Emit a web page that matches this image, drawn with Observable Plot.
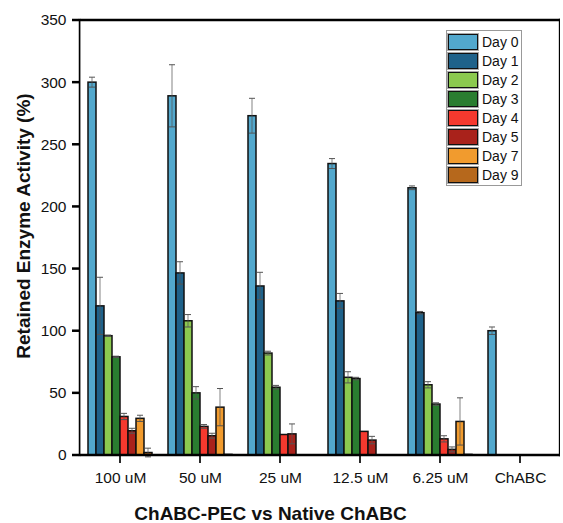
<!DOCTYPE html>
<html><head><meta charset="utf-8">
<script src="https://cdn.jsdelivr.net/npm/d3@7"></script>
<script src="https://cdn.jsdelivr.net/npm/@observablehq/plot@0.6"></script>
<style>
html,body{margin:0;padding:0;background:#fff;}
#wrap{position:relative;width:563px;height:523px;font-family:"Liberation Sans",Arial,sans-serif;}
#legend{position:absolute;left:446px;top:30px;width:73px;border:1px solid #999;background:#fff;padding:1px 0 1px 1px;font-family:"Liberation Sans",Arial,sans-serif;}
#legend .row{display:flex;align-items:center;height:19px;}
#legend .sw{width:28px;height:14px;border:1.5px solid #111;box-shadow:0 0 0 1px #aaa;margin-right:4px;}
#legend .lb{font-size:14px;line-height:16px;color:#111;}
</style></head><body><div id="wrap"></div><script>
const concentrations = ["100 uM", "50 uM", "25 uM", "12.5 uM", "6.25 uM", "ChABC"];
const days = ["Day 0", "Day 1", "Day 2", "Day 3", "Day 4", "Day 5", "Day 7", "Day 9"];
const colors = ["#52A8CD", "#1F628A", "#8BC94F", "#2A7D30", "#F5392E", "#A9221B", "#F19B2E", "#B6681C"];
const yTicks = [0, 50, 100, 150, 200, 250, 300, 350];

// values per day, across concentrations
const day0 = [300, 289, 273, 234.5, 215, 100];
const day1 = [120, 146.5, 136, 124, 114.5, 0];
const day2 = [96, 108, 82, 62.5, 56.5, 0];
const day3 = [79, 50, 54.5, 61.5, 41, 0];
const day4 = [31, 23, 16.5, 19, 13, 0];
const day5 = [19.5, 15.5, 17, 12, 4.5, 0];
const day7 = [29.5, 38.5, 0, 0, 27, 0];
const day9 = [2, 0.5, 0, 0, 0.5, 0];
// error bars (±)
const err0 = [4, 25, 14, 4, 1.5, 3];
const err1 = [23, 9, 11, 6, 1, 0];
const err2 = [0.5, 5, 1.5, 4.5, 2.5, 0];
const err3 = [0.5, 5, 1.5, 1, 1, 0];
const err4 = [2.5, 1.5, 0, 0, 2.5, 0];
const err5 = [2, 2, 8, 3, 2, 0];
const err7 = [2.5, 15, 0, 0, 19, 0];
const err9 = [3.5, 0, 0, 0, 0, 0];

const values = [day0, day1, day2, day3, day4, day5, day7, day9];
const errors = [err0, err1, err2, err3, err4, err5, err7, err9];
const rows = [];
days.forEach((d, i) => concentrations.forEach((c, j) => {
  if (values[i][j] > 0) rows.push({conc: c, day: d, value: values[i][j], err: errors[i][j]});
}));
const errRows = rows.filter(d => d.err > 0);

// layout
const W = 563, H = 523, mL = 77, mR = 1, mT = 20, mB = 68, padOuter = 0.88, yMax = 350;
const facetW = (W - mL - mR) / concentrations.length;
const step = facetW / (days.length + 2 * padOuter);
const px = yMax / (H - mT - mB);   // one pixel in data units
const lw = 2.5, tickLen = 8;

const first = concentrations[0], last = concentrations[concentrations.length - 1];
const hLines = concentrations.flatMap(c => [{conc: c, y: 0}, {conc: c, y: yMax}]);
const yTickRows = yTicks.map(t => ({conc: first, y: t}));
const fxTickRows = concentrations.map(c => ({conc: c}));

const chart = Plot.plot({
  width: W, height: H,
  marginLeft: mL, marginRight: mR, marginTop: mT, marginBottom: mB,
  style: {fontFamily: "'Liberation Sans', Arial, sans-serif", fontSize: "15.5px", color: "#111", background: "#fff"},
  fx: {domain: concentrations, padding: 0},
  x: {domain: days, paddingInner: 0, paddingOuter: padOuter, axis: null},
  y: {domain: [0, yMax]},
  color: {domain: days, range: colors},
  marks: [
    Plot.barY(rows, {fx: "conc", x: "day", y: "value", fill: "day", stroke: "#111", strokeWidth: 1.5}),
    // error bars: whisker and caps
    Plot.barY(errRows, {fx: "conc", x: "day", y1: d => d.value - d.err, y2: d => d.value + d.err,
      fill: "#555", insetLeft: step / 2 - 0.5, insetRight: step / 2 - 0.5}),
    Plot.barY(errRows, {fx: "conc", x: "day", y1: d => d.value + d.err - px / 2, y2: d => d.value + d.err + px / 2,
      fill: "#555", insetLeft: 1, insetRight: 1}),
    Plot.barY(errRows, {fx: "conc", x: "day", y1: d => d.value - d.err - px / 2, y2: d => d.value - d.err + px / 2,
      fill: "#555", insetLeft: 1, insetRight: 1}),
    // frame: bottom and top lines (facets are contiguous)
    Plot.barY(hLines, {fx: "conc", y1: d => d.y - px * lw / 2, y2: d => d.y + px * lw / 2, fill: "#000"}),
    // frame: left and right lines
    Plot.barY([{conc: first}], {fx: "conc", y1: -px * lw / 2, y2: yMax + px * lw / 2, fill: "#000",
      insetLeft: -lw / 2, insetRight: facetW - lw / 2}),
    Plot.barY([{conc: last}], {fx: "conc", y1: -px * lw / 2, y2: yMax + px * lw / 2, fill: "#000",
      insetLeft: facetW - 2, insetRight: 0}),
    // y-axis tick marks
    Plot.barY(yTickRows, {fx: "conc", y1: d => d.y - px * lw / 2, y2: d => d.y + px * lw / 2, fill: "#000",
      insetLeft: -tickLen, insetRight: facetW}),
    // x-axis tick marks
    Plot.barY(fxTickRows, {fx: "conc", y1: -px * tickLen, y2: 0, fill: "#000",
      insetLeft: facetW / 2 - lw / 2, insetRight: facetW / 2 - lw / 2}),
    Plot.axisY({ticks: yTicks, tickSize: 0, tickPadding: 14,
      label: "Retained Enzyme Activity (%)", labelAnchor: "center", labelOffset: 64, labelArrow: "none"}),
    Plot.axisFx({anchor: "bottom", tickSize: 0, tickPadding: 16,
      label: "ChABC-PEC vs Native ChABC", labelAnchor: "center", labelOffset: 64, labelArrow: "none"})
  ]
});
document.getElementById("wrap").appendChild(chart);

// bold axis titles, placed as in the reference
d3.select(chart).selectAll('g[aria-label="y-axis label"] text')
  .style("font-weight", "bold").style("font-size", "19px")
  .attr("transform", function() { return "translate(0,-12) " + (this.getAttribute("transform") || ""); });
d3.select(chart).selectAll('g[aria-label="fx-axis label"] text')
  .style("font-weight", "bold").style("font-size", "19px")
  .attr("transform", function() { return "translate(-50,0) " + (this.getAttribute("transform") || ""); });

// legend
const legend = d3.select("#wrap").append("div").attr("id", "legend");
days.forEach((d, i) => {
  const r = legend.append("div").attr("class", "row");
  r.append("div").attr("class", "sw").style("background", colors[i]);
  r.append("div").attr("class", "lb").text(d);
});
</script></body></html>
